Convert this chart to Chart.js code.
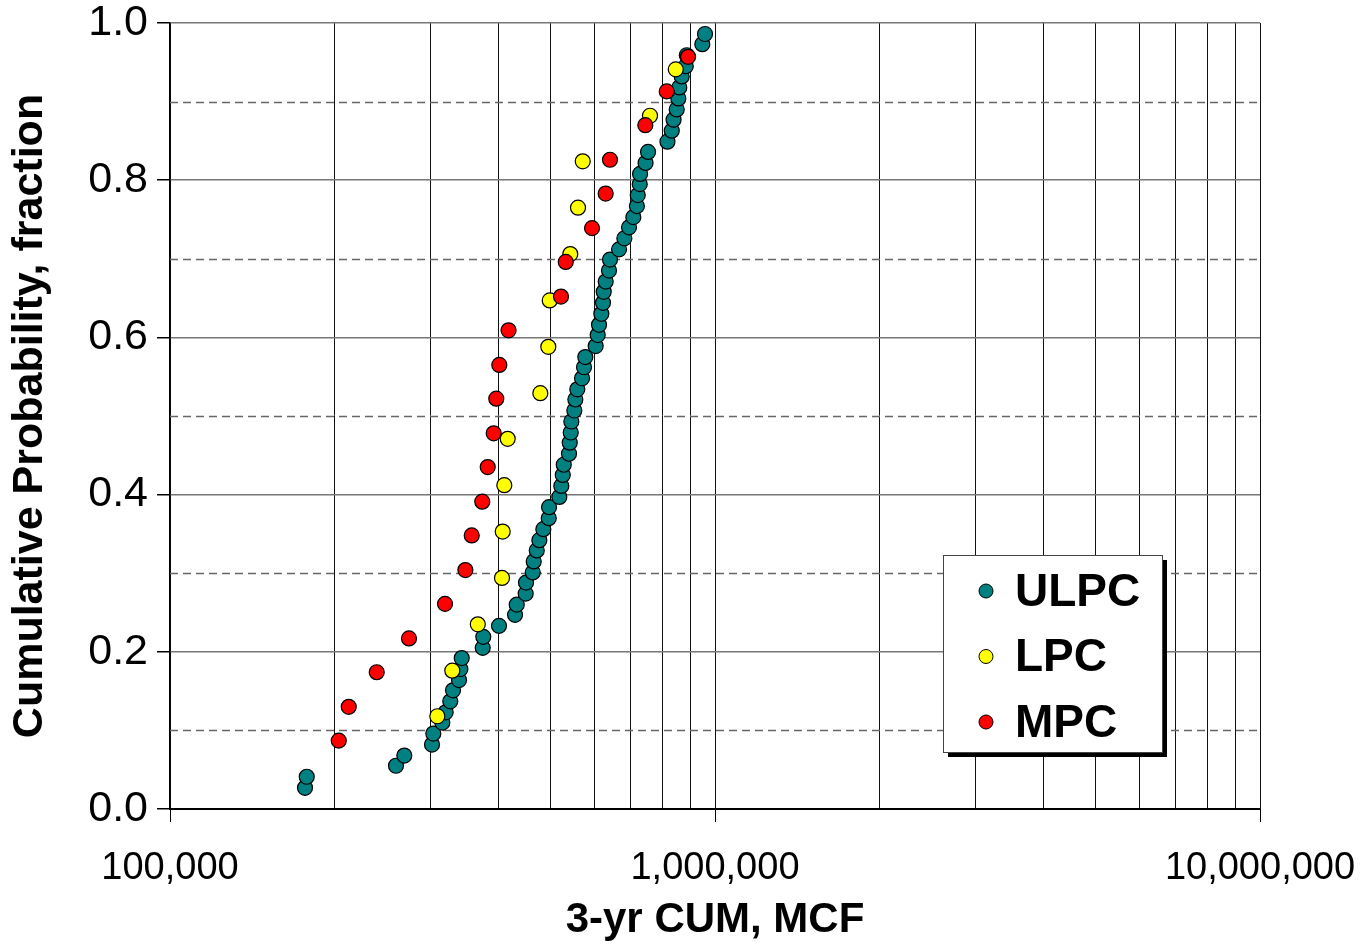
<!DOCTYPE html>
<html>
<head>
<meta charset="utf-8">
<script src="https://cdn.jsdelivr.net/npm/chart.js@4/dist/chart.umd.min.js"></script>
<style>
  body { margin: 0; background: #fff; }
  #wrap { width: 1362px; height: 950px; }
</style>
</head>
<body>
<div id="wrap"><canvas id="mainChart" width="1362" height="950"></canvas></div>
<script>
// Data (3-yr cum in MCF, cumulative probability)
const ulpcX = [176900, 178200, 259800, 269100, 302500, 304200, 316000, 320500, 326800, 330600,
    339100, 341000, 343000, 374800, 375700, 401500, 429600, 432700, 449400, 450000,
    463000, 464900, 470900, 476100, 484200, 495400, 496000, 518000, 522400, 525600,
    527800, 539700, 541300, 543600, 545000, 551900, 554300, 558900, 570200, 575000,
    578100, 604000, 609200, 612600, 618600, 623000, 624900, 630100, 639000, 641700,
    666700, 681800, 695400, 708200, 719000, 721500, 727600, 728600, 745700, 753600,
    818000, 833000, 839400, 850600, 856500, 860000, 868800, 883800, 887600, 947800, 958700];
const ulpcY = [0.027, 0.041, 0.055, 0.068, 0.082, 0.096, 0.110, 0.123, 0.137, 0.151,
    0.164, 0.178, 0.192, 0.205, 0.219, 0.233, 0.247, 0.260, 0.274, 0.288,
    0.301, 0.315, 0.329, 0.342, 0.356, 0.370, 0.384, 0.397, 0.411, 0.425,
    0.438, 0.452, 0.466, 0.479, 0.493, 0.507, 0.521, 0.534, 0.548, 0.562,
    0.575, 0.589, 0.603, 0.616, 0.630, 0.644, 0.658, 0.671, 0.685, 0.699,
    0.712, 0.726, 0.740, 0.753, 0.767, 0.781, 0.795, 0.808, 0.822, 0.836,
    0.849, 0.863, 0.877, 0.890, 0.904, 0.918, 0.932, 0.945, 0.959, 0.973, 0.986];

const lpcX = [309400, 329600, 367100, 406600, 407800, 410600, 416500, 478100, 494500, 497500,
    542600, 560600, 571900, 759900, 847200];
const lpcY = [0.118, 0.176, 0.235, 0.294, 0.353, 0.412, 0.471, 0.529, 0.588, 0.647,
    0.706, 0.765, 0.824, 0.882, 0.941];

const mpcX = [204000, 212800, 239500, 274500, 319600, 348300, 357800, 374100, 382800, 392600,
    396900, 402000, 418000, 521700, 532300, 594800, 630100, 641700, 745000, 815500, 892400];
const mpcY = [0.087, 0.130, 0.174, 0.217, 0.261, 0.304, 0.348, 0.391, 0.435, 0.478,
    0.522, 0.565, 0.609, 0.652, 0.696, 0.739, 0.783, 0.826, 0.870, 0.913, 0.957];

const xTicks = [100000, 200000, 300000, 400000, 500000, 600000, 700000, 800000, 900000,
    1000000, 2000000, 3000000, 4000000, 5000000, 6000000, 7000000, 8000000, 9000000, 10000000];
const xMajor = [100000, 1000000, 10000000];
const xLabels = ['100,000', '1,000,000', '10,000,000'];
const yDashed = [0.1, 0.3, 0.5, 0.7, 0.9];

const FONT = "'Liberation Sans', Arial, sans-serif";

function toPoints(xs, ys) {
    return xs.map((x, i) => ({ x: x, y: ys[i] }));
}

// dashed grid lines at the odd tenths
const dashedGrid = {
    id: 'dashedGrid',
    beforeDatasetsDraw(chart) {
        const { ctx, chartArea, scales } = chart;
        ctx.save();
        ctx.strokeStyle = '#666';
        ctx.lineWidth = 1.5;
        ctx.setLineDash([8, 5]);
        yDashed.forEach(v => {
            const y = Math.round(scales.y.getPixelForValue(v)) + 0.5;
            ctx.beginPath();
            ctx.moveTo(chartArea.left, y);
            ctx.lineTo(chartArea.right, y);
            ctx.stroke();
        });
        ctx.restore();
    }
};

// boxed legend with a drop shadow, inside the plot
const boxLegend = {
    id: 'boxLegend',
    afterDraw(chart) {
        const ctx = chart.ctx;
        const bx = 943, by = 555, bw = 219, bh = 197;
        ctx.save();
        ctx.fillStyle = '#000';
        ctx.fillRect(bx + 5, by + 5, bw, bh);
        ctx.fillStyle = '#fff';
        ctx.fillRect(bx, by, bw, bh);
        ctx.strokeStyle = '#444';
        ctx.lineWidth = 1;
        ctx.strokeRect(bx + 0.5, by + 0.5, bw, bh);
        ctx.font = 'bold 46px ' + FONT;
        ctx.textBaseline = 'middle';
        chart.data.datasets.forEach((ds, i) => {
            const cy = 591 + i * 65.5;
            ctx.beginPath();
            ctx.arc(986, cy, 7, 0, Math.PI * 2);
            ctx.fillStyle = ds.backgroundColor;
            ctx.fill();
            ctx.strokeStyle = '#000';
            ctx.lineWidth = 1;
            ctx.stroke();
            ctx.fillStyle = '#000';
            ctx.fillText(ds.label, 1015, cy + 2);
        });
        ctx.restore();
    }
};

// Main Chart
const ctx = document.getElementById('mainChart').getContext('2d');
new Chart(ctx, {
    type: 'scatter',
    data: {
        datasets: [{
            label: 'ULPC',
            data: toPoints(ulpcX, ulpcY),
            backgroundColor: '#008080',
            order: 3
        }, {
            label: 'LPC',
            data: toPoints(lpcX, lpcY),
            backgroundColor: '#ffff00',
            order: 2
        }, {
            label: 'MPC',
            data: toPoints(mpcX, mpcY),
            backgroundColor: '#ff0000',
            order: 1
        }]
    },
    options: {
        responsive: false,
        animation: false,
        events: [],
        layout: { padding: { top: 23, right: 102, left: 0, bottom: 0 } },
        elements: {
            point: { radius: 7.5, borderWidth: 1.2, borderColor: '#000' }
        },
        plugins: {
            legend: { display: false },
            tooltip: { enabled: false }
        },
        scales: {
            x: {
                type: 'logarithmic',
                min: 100000,
                max: 10000000,
                afterBuildTicks: (s) => { s.ticks = xTicks.map(v => ({ value: v })); },
                afterFit: (s) => {
                    s.height = 141;
                    s.paddingLeft = 0;
                    s.paddingRight = 0;
                },
                ticks: {
                    autoSkip: false,
                    maxRotation: 0,
                    padding: 24,
                    color: '#000',
                    font: { family: FONT, size: 38 },
                    callback: (v) => {
                        const k = xMajor.indexOf(v);
                        return k >= 0 ? xLabels[k] : '';
                    }
                },
                grid: {
                    color: '#111',
                    lineWidth: 1,
                    tickLength: 13,
                    tickColor: (c) => (c.tick && xMajor.indexOf(c.tick.value) >= 0) ? '#000' : 'rgba(0,0,0,0)'
                },
                border: { color: '#000', width: 2 },
                title: {
                    display: true,
                    text: '3-yr CUM, MCF',
                    color: '#000',
                    font: { family: FONT, size: 42, weight: 'bold' }
                }
            },
            y: {
                min: 0,
                max: 1,
                afterFit: (s) => {
                    s.width = 170;
                    s.paddingTop = 0;
                    s.paddingBottom = 0;
                },
                ticks: {
                    stepSize: 0.2,
                    padding: 9,
                    color: '#000',
                    font: { family: FONT, size: 43 },
                    callback: (v) => v.toFixed(1)
                },
                grid: {
                    color: '#777',
                    lineWidth: 1.5,
                    tickLength: 13,
                    tickColor: '#000'
                },
                border: { color: '#000', width: 1.5 },
                title: {
                    display: true,
                    text: 'Cumulative Probability, fraction',
                    color: '#000',
                    font: { family: FONT, size: 43, weight: 'bold' }
                }
            }
        }
    },
    plugins: [dashedGrid, boxLegend]
});
</script>
</body>
</html>
